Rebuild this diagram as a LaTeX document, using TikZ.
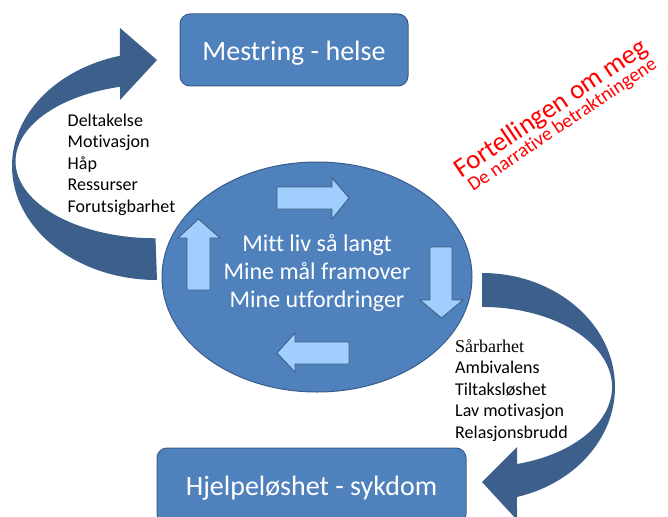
\documentclass[tikz,border=0pt]{standalone}
\usepackage{fontspec}
\usetikzlibrary{shapes.geometric}
\setmainfont{Carlito}[Ligatures=NoCommon]
\newfontfamily\timesfont{Liberation Serif}
\definecolor{boxblue}{HTML}{4F81BD}
\definecolor{boxedge}{HTML}{385D8A}
\definecolor{darkarrow}{HTML}{3C5F8C}
\definecolor{lightarrow}{HTML}{A0CFFF}
\definecolor{lightedge}{HTML}{3B5A7A}
\begin{document}
\begin{tikzpicture}[x=1pt,y=-1pt,
  bluebox/.style={draw=boxedge, line width=1pt, fill=boxblue, rounded corners=10pt, text=white, inner sep=0pt},
  bigarrow/.style={fill=darkarrow, draw=none},
  smallarrow/.style={fill=lightarrow, draw=lightedge, line width=0.8pt, line join=miter},
  listtext/.style={anchor=base west, inner sep=0pt, font=\fontsize{18}{21.5}\selectfont},
  coretext/.style={anchor=base, inner sep=0pt, text=white, font=\fontsize{24}{28}\selectfont},
  redtext/.style={text=red, inner sep=0pt, rotate=34, anchor=base west}]
\useasboundingbox (0,0) rectangle (668,516);
\clip (0,0) rectangle (668,516);

% curved arrow, left (up to Mestring)
\draw[bigarrow] (157,280) arc[start angle=90, end angle=255.2, x radius=145, y radius=114]
  -- (120,28) -- (157,60) -- (120,100) -- (120,86.8)
  arc[start angle=255.3, end angle=90, x radius=140, y radius=77] -- cycle;

% curved arrow, right (down to Hjelpeloshet)
\draw[bigarrow] (482,273) arc[start angle=-90, end angle=74.75, x radius=133, y radius=114]
  -- (517,520) -- (482,482) -- (517,447) -- (517,464)
  arc[start angle=74.4, end angle=-90, x radius=130, y radius=80] -- cycle;

% boxes
\node[bluebox, minimum width=228pt, minimum height=72pt, text height=22pt, text depth=0pt,
  font=\fontsize{28}{32}\selectfont] (top) at (294,50) {Mestring - helse};
\node[bluebox, minimum width=309pt, minimum height=76pt, text height=18pt, text depth=0pt,
  font=\fontsize{28}{32}\selectfont] (bottom) at (311.5,486) {Hjelpeløshet - sykdom};

% central ellipse
\node[ellipse, draw=boxedge, line width=1pt, fill=boxblue, minimum width=310pt, minimum height=230pt, inner sep=0pt] (core) at (317,277) {};
\node[coretext] (c1) at (317,251) {Mitt liv så langt};
\node[coretext] (c2) at (317,279.3) {Mine mål framover};
\node[coretext] (c3) at (317,307.6) {Mine utfordringer};

% small cycle arrows
\draw[smallarrow] (277,187) -- (332,187) -- (332,178) -- (349,198) -- (332,219) -- (332,209) -- (277,209) -- cycle;
\draw[smallarrow] (430,247) -- (452,247) -- (452,300) -- (463,300) -- (441.5,318) -- (420,300) -- (430,300) -- cycle;
\draw[smallarrow] (349,342) -- (295,342) -- (295,333) -- (277,353) -- (295,372) -- (295,364) -- (349,364) -- cycle;
\draw[smallarrow] (187,290) -- (187,238) -- (178,238) -- (198.5,219) -- (220,238) -- (210,238) -- (210,290) -- cycle;

% left list
\node[listtext] (l1) at (67.5,126) {Deltakelse};
\node[listtext] (l2) at (67.5,147.5) {Motivasjon};
\node[listtext] (l3) at (67.5,169) {Håp};
\node[listtext] (l4) at (67.5,190.5) {Ressurser};
\node[listtext] (l5) at (67.5,212) {Forutsigbarhet};

% right list
\node[listtext, font=\timesfont\fontsize{18}{21.5}\selectfont] (r1) at (455,352) {Sårbarhet};
\node[listtext] (r2) at (455,373.5) {Ambivalens};
\node[listtext] (r3) at (455,395) {Tiltaksløshet};
\node[listtext] (r4) at (455,416.5) {Lav motivasjon};
\node[listtext] (r5) at (455,438) {Relasjonsbrudd};

% red rotated titles
\node[redtext, font=\fontsize{27}{30}\selectfont] (f1) at (461.5,178.5) {Fortellingen om meg};
\node[redtext, font=\fontsize{19.5}{22}\selectfont] (f2) at (473,192) {De narrative betraktningene};
\end{tikzpicture}
\end{document}
